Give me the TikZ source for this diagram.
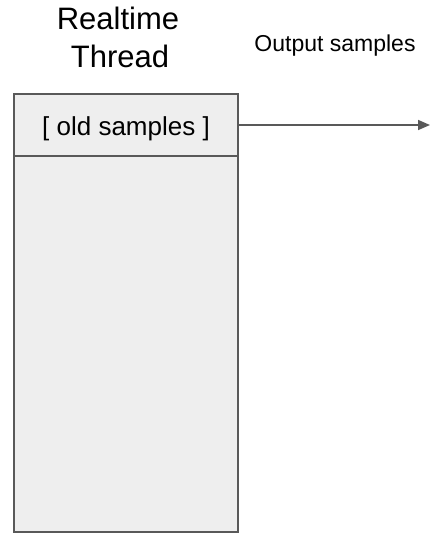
\documentclass[tikz,border=0pt]{standalone}
\usepackage{fontspec}
\setmainfont{Liberation Sans}
\usetikzlibrary{arrows.meta}
\definecolor{edge}{HTML}{595959}
\definecolor{cell}{HTML}{EEEEEE}
\begin{document}
\begin{tikzpicture}[x=1pt,y=-1pt,
  title/.style={anchor=base,inner sep=0pt,font=\fontsize{31}{37}\selectfont},
  lab/.style={anchor=base,inner sep=0pt,font=\fontsize{23}{27}\selectfont},
  celltext/.style={inner sep=0pt,font=\fontsize{26}{30}\selectfont},
  bufbox/.style={draw=edge,fill=cell,line width=2pt,inner sep=0pt},
  flow/.style={draw=edge,line width=1.6pt,-{Triangle[length=12pt,width=10pt]}}]
\useasboundingbox (0,0) rectangle (434,535);
\node[bufbox,minimum width=224pt,minimum height=438pt] (buf) at (126,313) {};
\node[bufbox,minimum width=224pt,minimum height=62pt] (old) at (126,125) {};
\node[celltext,anchor=base] (oldtext) at (126,135) {[ old samples ]};
\node[title] (realtime) at (118,30) {Realtime};
\node[title] (thread) at (120,67) {Thread};
\node[lab] (out) at (335,52) {Output samples};
\coordinate (tip) at (430,125);
\draw[flow] (old.east) -- (tip);
\end{tikzpicture}
\end{document}
